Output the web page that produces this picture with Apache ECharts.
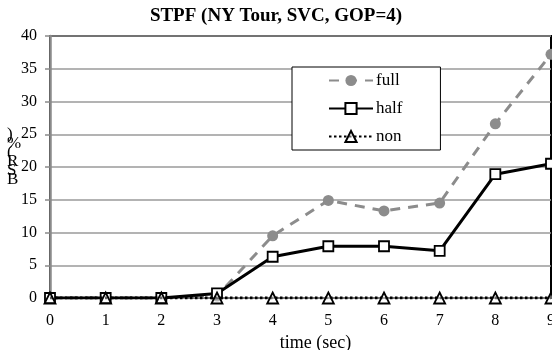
<!DOCTYPE html>
<html>
<head>
<meta charset="utf-8">
<script src="https://cdn.jsdelivr.net/npm/echarts@6/dist/echarts.min.js"></script>
<style>
  html, body { margin: 0; padding: 0; background: #fff; }
  #main { width: 552px; height: 350px; }
</style>
</head>
<body>
<div id="main"></div>
<script>
// time (sec)
var timeLabels = ['0', '1', '2', '3', '4', '5', '6', '7', '8', '9'];
// BSR (%) per scheme
var fullData = [0, 0, 0, 0.3, 9.5, 14.9, 13.3, 14.5, 26.6, 37.2];
var halfData = [0, 0, 0, 0.7, 6.3, 7.9, 7.9, 7.2, 18.9, 20.5];
var nonData  = [0, 0, 0, 0, 0, 0, 0, 0, 0, 0];
var yTicks = { min: 0, max: 40, interval: 5 };

var serif = 'Liberation Serif';
var myChart = echarts.init(document.getElementById('main'));

var option = {
  animation: false,
  title: {
    text: 'STPF (NY Tour, SVC, GOP=4)',
    left: 'center',
    top: 2,
    textStyle: { fontFamily: serif, fontSize: 19, fontWeight: 'bold', color: '#000' }
  },
  grid: {
    left: 50, right: 1, top: 36, bottom: 52,
    outerBoundsMode: 'none',
    show: true,
    borderColor: '#000',
    borderWidth: 2
  },
  legend: {
    orient: 'vertical',
    left: 292,
    top: 67,
    padding: [5, 38, 5, 36],
    borderColor: '#000',
    borderWidth: 1,
    backgroundColor: '#fff',
    itemWidth: 44,
    itemHeight: 14,
    itemGap: 11,
    textStyle: { fontFamily: serif, fontSize: 17, color: '#000', padding: [0, 0, 0, -2] },
    data: ['full', 'half', 'non']
  },
  graphic: [{
    type: 'text',
    left: 7,
    top: 126,
    style: {
      text: ')\n%\n(\nR\nS\nB',
      fontFamily: serif,
      fontSize: 17,
      lineHeight: 9,
      fill: '#000'
    }
  }],
  xAxis: {
    type: 'category',
    boundaryGap: false,
    data: timeLabels,
    name: 'time (sec)',
    nameLocation: 'middle',
    nameGap: 32,
    nameTextStyle: { fontFamily: serif, fontSize: 18, color: '#000', padding: [0, 0, 0, 30] },
    axisLine: { show: false },
    axisTick: { show: false },
    axisLabel: { fontFamily: serif, fontSize: 16, color: '#000', margin: 15 }
  },
  yAxis: {
    type: 'value',
    min: yTicks.min,
    max: yTicks.max,
    interval: yTicks.interval,
    axisLine: { show: true, lineStyle: { color: '#8a8a8a', width: 2.5 } },
    axisTick: { show: true, length: 5, lineStyle: { color: '#8a8a8a', width: 1.5 } },
    axisLabel: { fontFamily: serif, fontSize: 16, color: '#000', margin: 13 },
    splitLine: { show: true, lineStyle: { color: '#9a9a9a', width: 1.5 } }
  },
  series: [
    {
      name: 'full',
      type: 'line',
      data: fullData,
      symbol: 'circle',
      symbolSize: 11,
      z: 2,
      lineStyle: { color: '#8c8c8c', width: 3, type: [10, 8] },
      itemStyle: { color: '#8c8c8c', borderWidth: 0 }
    },
    {
      name: 'half',
      type: 'line',
      data: halfData,
      symbol: 'rect',
      symbolSize: 10,
      z: 3,
      lineStyle: { color: '#000', width: 3 },
      itemStyle: { color: '#fff', borderColor: '#000', borderWidth: 1.8 }
    },
    {
      name: 'non',
      type: 'line',
      data: nonData,
      symbol: 'triangle',
      symbolSize: 11,
      z: 4,
      lineStyle: { color: '#000', width: 2.8, type: [2.5, 2.5] },
      itemStyle: { color: 'rgba(255,255,255,0.4)', borderColor: '#000', borderWidth: 1.8 }
    }
  ]
};
myChart.setOption(option);
</script>
</body>
</html>
